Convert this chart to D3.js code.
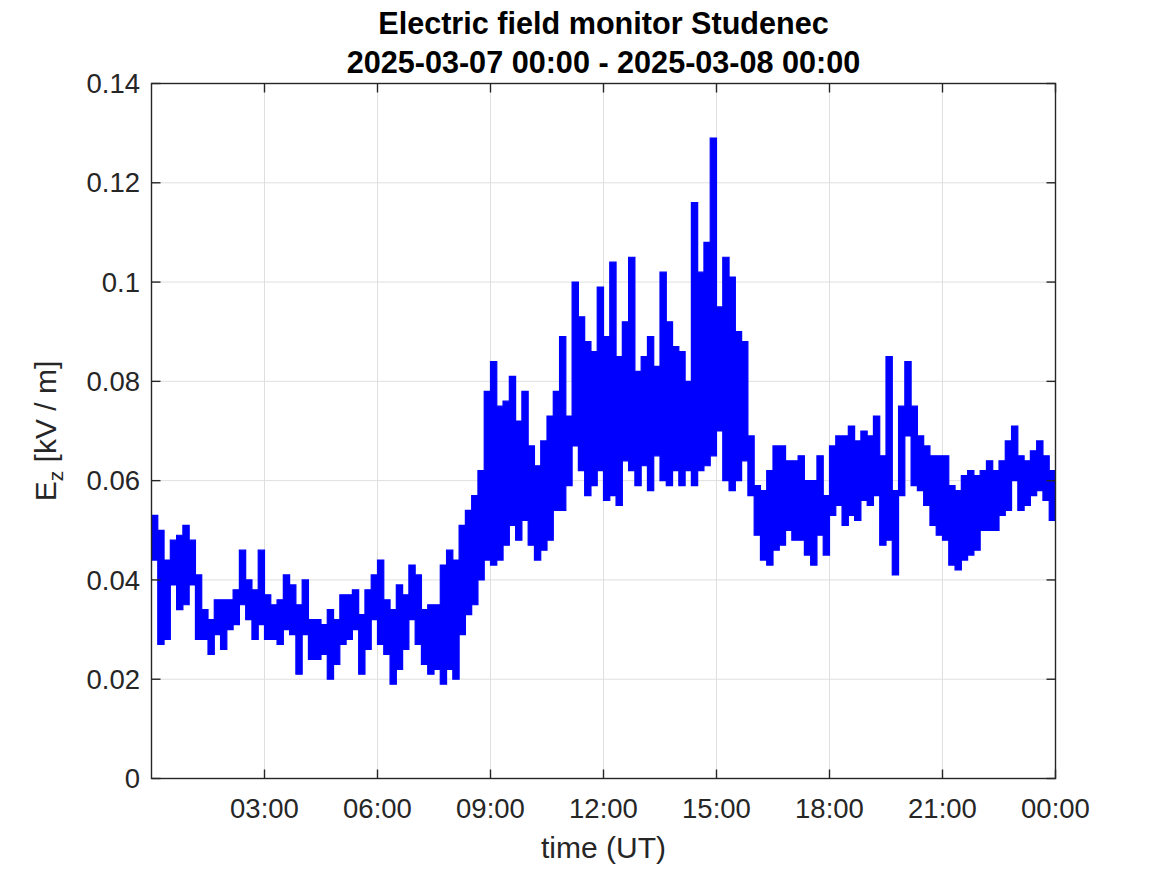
<!DOCTYPE html>
<html>
<head>
<meta charset="utf-8">
<script src="https://cdn.jsdelivr.net/npm/d3@7"></script>
<style>
  html, body { margin: 0; padding: 0; background: #fff; }
  svg { display: block; }
  text { font-family: "Liberation Sans", Arial, Helvetica, sans-serif; }
</style>
</head>
<body>
<svg id="chart" width="1167" height="875"></svg>
<script>
// ---- Data (10-minute envelopes of E_z, kV/m, starting 2025-03-07 00:00 UT) ----
const titleLines = ["Electric field monitor Studenec", "2025-03-07 00:00 - 2025-03-08 00:00"];
const startTime = "2025-03-07T00:00:00Z";
const endTime = "2025-03-08T00:00:00Z";
const stepMinutes = 10;
const xTickLabels = ["03:00", "06:00", "09:00", "12:00", "15:00", "18:00", "21:00", "00:00"];
const yTicks = [0, 0.02, 0.04, 0.06, 0.08, 0.1, 0.12, 0.14];

const ezHigh = [
  0.053, 0.050, 0.044, 0.048, 0.049, 0.051, 0.048, 0.041, 0.034, 0.032,
  0.036, 0.036, 0.036, 0.038, 0.046, 0.040, 0.038, 0.046, 0.037, 0.035,
  0.036, 0.041, 0.039, 0.035, 0.040, 0.032, 0.032, 0.031, 0.034, 0.032,
  0.037, 0.037, 0.038, 0.033, 0.038, 0.041, 0.044, 0.036, 0.034, 0.039,
  0.037, 0.043, 0.041, 0.034, 0.035, 0.035, 0.043, 0.046, 0.044, 0.051,
  0.054, 0.057, 0.062, 0.078, 0.084, 0.075, 0.076, 0.081, 0.072, 0.078,
  0.067, 0.063, 0.068, 0.073, 0.078, 0.089, 0.073, 0.100, 0.093, 0.088,
  0.086, 0.099, 0.089, 0.104, 0.085, 0.092, 0.105, 0.082, 0.085, 0.089,
  0.083, 0.102, 0.092, 0.087, 0.086, 0.080, 0.116, 0.102, 0.108, 0.129,
  0.095, 0.105, 0.101, 0.090, 0.088, 0.069, 0.059, 0.058, 0.062, 0.067,
  0.067, 0.064, 0.064, 0.065, 0.060, 0.060, 0.065, 0.057, 0.067, 0.069,
  0.069, 0.071, 0.068, 0.070, 0.069, 0.073, 0.065, 0.085, 0.058, 0.075,
  0.084, 0.075, 0.069, 0.067, 0.065, 0.065, 0.065, 0.059, 0.058, 0.061,
  0.062, 0.061, 0.062, 0.064, 0.062, 0.064, 0.068, 0.071, 0.065, 0.064,
  0.066, 0.068, 0.065, 0.062
];
const ezLow = [
  0.044, 0.027, 0.028, 0.039, 0.034, 0.035, 0.039, 0.028, 0.028, 0.025,
  0.029, 0.026, 0.030, 0.031, 0.035, 0.032, 0.028, 0.031, 0.028, 0.028,
  0.027, 0.030, 0.029, 0.021, 0.029, 0.024, 0.024, 0.025, 0.020, 0.023,
  0.027, 0.028, 0.030, 0.021, 0.026, 0.032, 0.027, 0.025, 0.019, 0.022,
  0.026, 0.032, 0.027, 0.023, 0.021, 0.022, 0.019, 0.022, 0.020, 0.029,
  0.033, 0.035, 0.040, 0.044, 0.043, 0.044, 0.047, 0.051, 0.048, 0.052,
  0.047, 0.044, 0.046, 0.048, 0.054, 0.054, 0.059, 0.067, 0.062, 0.057,
  0.059, 0.062, 0.056, 0.057, 0.055, 0.064, 0.062, 0.059, 0.063, 0.058,
  0.065, 0.060, 0.059, 0.062, 0.059, 0.062, 0.059, 0.062, 0.063, 0.065,
  0.070, 0.060, 0.058, 0.060, 0.064, 0.057, 0.049, 0.044, 0.043, 0.046,
  0.047, 0.050, 0.048, 0.048, 0.045, 0.043, 0.049, 0.045, 0.053, 0.055,
  0.051, 0.053, 0.052, 0.056, 0.055, 0.057, 0.047, 0.048, 0.041, 0.057,
  0.069, 0.059, 0.058, 0.055, 0.051, 0.049, 0.048, 0.043, 0.042, 0.044,
  0.045, 0.046, 0.050, 0.050, 0.050, 0.053, 0.054, 0.060, 0.054, 0.055,
  0.057, 0.058, 0.056, 0.052
];

// ---- Layout ----
const svg = d3.select("#chart");
const W = 1167, H = 875;
const plot = { left: 151.5, right: 1055.5, top: 83.5, bottom: 778.5 };
const axisColor = "#262626";
const gridColor = "#dfdfdf";
const tickLen = 9;

const t0 = new Date(startTime), t1 = new Date(endTime);
const x = d3.scaleUtc().domain([t0, t1]).range([plot.left, plot.right]);
const y = d3.scaleLinear().domain([0, 0.14]).range([plot.bottom, plot.top]);

const xTickDates = xTickLabels.map((_, i) => d3.utcHour.offset(t0, 3 * (i + 1)));

svg.append("rect").attr("width", W).attr("height", H).attr("fill", "#fff");

// Grid
const grid = svg.append("g").attr("stroke", gridColor).attr("stroke-width", 1);
xTickDates.slice(0, -1).forEach(d => {
  grid.append("line").attr("x1", x(d)).attr("x2", x(d)).attr("y1", plot.top).attr("y2", plot.bottom);
});
yTicks.slice(1, -1).forEach(v => {
  grid.append("line").attr("x1", plot.left).attr("x2", plot.right).attr("y1", y(v)).attr("y2", y(v));
});

// Data points
const pts = ezHigh.map((h, i) => ({ t: d3.utcMinute.offset(t0, i * stepMinutes), hi: h, lo: ezLow[i] }));
pts.push({ t: t1, hi: ezHigh[ezHigh.length - 1], lo: ezLow[ezLow.length - 1] });

svg.append("clipPath").attr("id", "clip").append("rect")
  .attr("x", plot.left).attr("y", plot.top)
  .attr("width", plot.right - plot.left).attr("height", plot.bottom - plot.top);

const area = d3.area()
  .x(d => x(d.t))
  .y0(d => y(d.lo))
  .y1(d => y(d.hi))
  .curve(d3.curveStepAfter);

svg.append("path")
  .datum(pts)
  .attr("clip-path", "url(#clip)")
  .attr("d", area)
  .attr("fill", "#0000ff")
  .attr("stroke", "#0000ff")
  .attr("stroke-width", 1.2)
  .attr("stroke-linejoin", "miter");

// Axes box + ticks
const axes = svg.append("g").attr("stroke", axisColor).attr("stroke-width", 1.4).attr("fill", "none");
axes.append("rect").attr("x", plot.left).attr("y", plot.top)
  .attr("width", plot.right - plot.left).attr("height", plot.bottom - plot.top);
xTickDates.forEach(d => {
  axes.append("line").attr("x1", x(d)).attr("x2", x(d)).attr("y1", plot.bottom).attr("y2", plot.bottom - tickLen);
  axes.append("line").attr("x1", x(d)).attr("x2", x(d)).attr("y1", plot.top).attr("y2", plot.top + tickLen);
});
yTicks.forEach(v => {
  axes.append("line").attr("x1", plot.left).attr("x2", plot.left + tickLen).attr("y1", y(v)).attr("y2", y(v));
  axes.append("line").attr("x1", plot.right).attr("x2", plot.right - tickLen).attr("y1", y(v)).attr("y2", y(v));
});

// Tick labels
const tickFont = 27.5;
svg.append("g").selectAll("text").data(xTickDates).join("text")
  .attr("x", d => x(d)).attr("y", 818)
  .attr("text-anchor", "middle")
  .attr("font-size", tickFont).attr("fill", axisColor)
  .text((d, i) => xTickLabels[i]);

const yFmt = v => v === 0 ? "0" : String(+v.toFixed(2));
svg.append("g").selectAll("text").data(yTicks).join("text")
  .attr("x", 140).attr("y", v => y(v))
  .attr("dy", "0.35em")
  .attr("text-anchor", "end")
  .attr("font-size", tickFont).attr("fill", axisColor)
  .text(yFmt);

// Axis labels
svg.append("text")
  .attr("x", (plot.left + plot.right) / 2).attr("y", 858)
  .attr("text-anchor", "middle")
  .attr("font-size", 30).attr("fill", axisColor)
  .text("time (UT)");

const yl = svg.append("text")
  .attr("transform", `translate(56, ${(plot.top + plot.bottom) / 2}) rotate(-90)`)
  .attr("text-anchor", "middle")
  .attr("font-size", 30).attr("fill", axisColor);
yl.append("tspan").text("E");
yl.append("tspan").attr("font-size", 21).attr("dy", 7).text("z");
yl.append("tspan").attr("dy", -7).text(" [kV / m]");

// Title
svg.append("g").selectAll("text").data(titleLines).join("text")
  .attr("x", (plot.left + plot.right) / 2)
  .attr("y", (d, i) => 34 + i * 38.5)
  .attr("text-anchor", "middle")
  .attr("font-size", 30.6).attr("font-weight", "bold").attr("fill", "#000")
  .text(d => d);
</script>
</body>
</html>
